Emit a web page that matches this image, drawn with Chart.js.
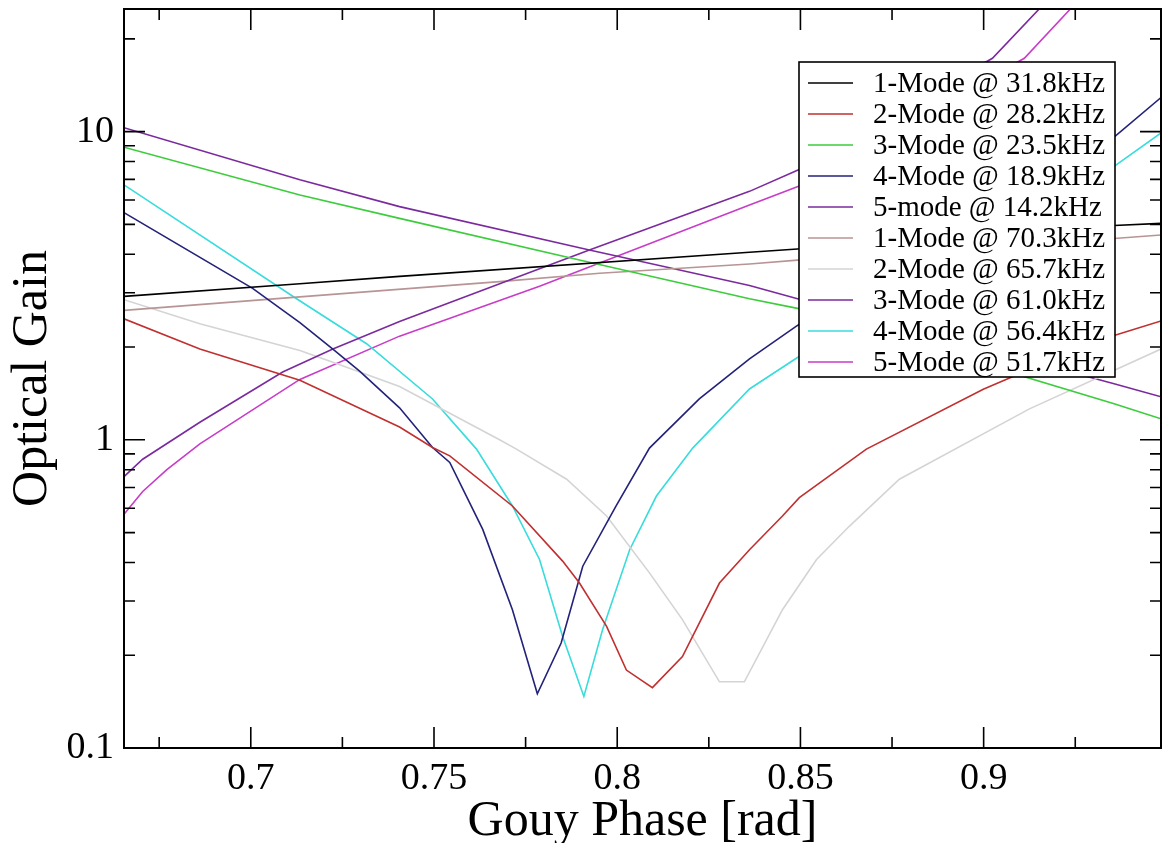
<!DOCTYPE html>
<html>
<head>
<meta charset="utf-8">
<script src="https://cdn.jsdelivr.net/npm/chart.js@4.4.0/dist/chart.umd.min.js"></script>
<style>
  html, body { margin: 0; padding: 0; background: #fff; }
  canvas { display: block; }
</style>
</head>
<body>
<canvas id="gainChart" width="1167" height="843"></canvas>
<script>
// values (x = Gouy phase in rad, y = optical gain)

// 1-Mode @ 31.8kHz
const phase318 = [0.6654, 0.7134, 0.7406, 0.8361, 0.8492, 0.9356, 0.9484];
const gain318 = [2.92, 3.21, 3.39, 4.06, 4.16, 4.96, 5.04];

// 2-Mode @ 28.2kHz
const phase282 = [0.6654, 0.6861, 0.7134, 0.7406, 0.7496, 0.7543, 0.7714, 0.7851, 0.7897, 0.7971, 0.8025, 0.8096, 0.8178, 0.8279, 0.8361, 0.8451, 0.8497, 0.8680, 0.8999, 0.9206, 0.9356, 0.9484];
const gain282 = [2.47, 1.97, 1.56, 1.10, 0.944, 0.887, 0.61, 0.404, 0.343, 0.248, 0.179, 0.157, 0.198, 0.343, 0.44, 0.566, 0.649, 0.933, 1.46, 1.86, 2.18, 2.43];

// 3-Mode @ 23.5kHz
const phase235 = [0.6654, 0.7134, 0.7406, 0.7897, 0.8361, 0.8492, 0.9356, 0.9484];
const gain235 = [8.9, 6.23, 5.23, 3.83, 2.87, 2.67, 1.31, 1.17];

// 4-Mode @ 18.9kHz
const phase189 = [0.6654, 0.7005, 0.7134, 0.7224, 0.7297, 0.7406, 0.7496, 0.7543, 0.7633, 0.7714, 0.7782, 0.7847, 0.7906, 0.7997, 0.8088, 0.8224, 0.8361, 0.8492, 0.9356, 0.9484];
const gain189 = [5.46, 3.1, 2.4, 1.97, 1.67, 1.27, 0.944, 0.844, 0.512, 0.281, 0.150, 0.219, 0.389, 0.61, 0.94, 1.357, 1.83, 2.35, 9.6, 12.9];

// 5-mode @ 14.2kHz
const phase142 = [0.6654, 0.6705, 0.6861, 0.7087, 0.7224, 0.7406, 0.7788, 0.7924, 0.8361, 0.8495, 0.9024, 0.9157];
const gain142 = [0.76, 0.865, 1.14, 1.66, 1.97, 2.42, 3.59, 4.13, 6.4, 7.52, 17.3, 25.4];

// 1-Mode @ 70.3kHz
const phase703 = [0.6654, 0.7134, 0.7679, 0.7952, 0.8361, 0.8492, 0.9356, 0.9484];
const gain703 = [2.63, 2.91, 3.26, 3.47, 3.72, 3.83, 4.5, 4.62];

// 2-Mode @ 65.7kHz
const phase657 = [0.6654, 0.6861, 0.7134, 0.7224, 0.7406, 0.7679, 0.7725, 0.7862, 0.7971, 0.8088, 0.8178, 0.8279, 0.8347, 0.8451, 0.8544, 0.8634, 0.8770, 0.9125, 0.9484];
const gain657 = [2.85, 2.38, 1.95, 1.786, 1.49, 1.0, 0.933, 0.745, 0.566, 0.37, 0.261, 0.164, 0.164, 0.281, 0.409, 0.525, 0.745, 1.26, 1.97];

// 3-Mode @ 61.0kHz
const phase610 = [0.6654, 0.7134, 0.7406, 0.7924, 0.8361, 0.8492, 0.9356, 0.9484];
const gain610 = [10.3, 6.98, 5.71, 4.13, 3.17, 2.87, 1.52, 1.38];

// 4-Mode @ 56.4kHz
const phase564 = [0.6654, 0.7125, 0.7316, 0.7496, 0.7616, 0.7714, 0.7788, 0.7851, 0.7909, 0.7960, 0.8034, 0.8107, 0.8206, 0.8361, 0.8495, 0.9356, 0.9484];
const gain564 = [6.72, 2.87, 2.05, 1.357, 0.933, 0.61, 0.409, 0.23, 0.147, 0.242, 0.44, 0.657, 0.94, 1.462, 1.86, 7.71, 9.9];

// 5-Mode @ 51.7kHz
const phase517 = [0.6654, 0.6705, 0.6771, 0.6861, 0.7134, 0.7406, 0.7788, 0.8361, 0.8495, 0.9111, 0.9242];
const gain517 = [0.573, 0.68, 0.80, 0.97, 1.57, 2.17, 3.15, 5.78, 6.65, 17.3, 25.4];

const seriesLabels = [
    "1-Mode @ 31.8kHz", "2-Mode @ 28.2kHz", "3-Mode @ 23.5kHz", "4-Mode @ 18.9kHz", "5-mode @ 14.2kHz",
    "1-Mode @ 70.3kHz", "2-Mode @ 65.7kHz", "3-Mode @ 61.0kHz", "4-Mode @ 56.4kHz", "5-Mode @ 51.7kHz"
];
const seriesPhase = [phase318, phase282, phase235, phase189, phase142, phase703, phase657, phase610, phase564, phase517];
const seriesGain = [gain318, gain282, gain235, gain189, gain142, gain703, gain657, gain610, gain564, gain517];
const seriesColors = ["#000000", "#c03030", "#3ccc3c", "#22227a", "#7b2a9e", "#b89494", "#d4d4d4", "#7b2a9e", "#38dcdc", "#c83cc8"];

const xMajorTicks = [0.7, 0.75, 0.8, 0.85, 0.9];
const xMinorTicks = [0.675, 0.725, 0.775, 0.825, 0.875, 0.925];
const yMajorTicks = [0.1, 1, 10];
const yMinorTicks = [0.2, 0.3, 0.4, 0.5, 0.6, 0.7, 0.8, 0.9, 2, 3, 4, 5, 6, 7, 8, 9, 20];

const serif = "'Liberation Serif', 'DejaVu Serif', serif";

const datasets = seriesLabels.map((label, i) => ({
    label: label,
    data: seriesPhase[i].map((p, j) => ({ x: p, y: seriesGain[i][j] })),
    borderColor: seriesColors[i],
    borderWidth: 1.6,
    pointRadius: 0,
    tension: 0,
    fill: false
}));

// frame, inward ticks and the boxed legend, drawn on top of the lines
const frameAndLegend = {
    id: "frameAndLegend",
    afterDatasetsDraw(chart) {
        const { ctx, chartArea: a, scales: { x, y } } = chart;
        ctx.save();
        ctx.strokeStyle = "#000";
        ctx.lineWidth = 1.6;
        ctx.beginPath();
        const xTick = (v, len) => {
            const p = x.getPixelForValue(v);
            ctx.moveTo(p, a.bottom); ctx.lineTo(p, a.bottom - len);
            ctx.moveTo(p, a.top); ctx.lineTo(p, a.top + len);
        };
        const yTick = (v, len) => {
            const p = y.getPixelForValue(v);
            ctx.moveTo(a.left, p); ctx.lineTo(a.left + len, p);
            ctx.moveTo(a.right, p); ctx.lineTo(a.right - len, p);
        };
        xMajorTicks.forEach(v => xTick(v, 21));
        xMinorTicks.forEach(v => xTick(v, 11));
        yMajorTicks.forEach(v => yTick(v, 21));
        yMinorTicks.forEach(v => yTick(v, 11));
        ctx.stroke();

        ctx.lineWidth = 2;
        ctx.strokeRect(a.left, a.top, a.right - a.left, a.bottom - a.top);

        // legend
        const boxLeft = 799, boxTop = 62, boxWidth = 316, rowH = 31, firstRow = 83;
        const boxHeight = (firstRow - boxTop) * 2 + rowH * (seriesLabels.length - 1) - 6;
        ctx.fillStyle = "#fff";
        ctx.fillRect(boxLeft, boxTop, boxWidth, boxHeight);
        ctx.lineWidth = 1.6;
        ctx.strokeStyle = "#000";
        ctx.strokeRect(boxLeft, boxTop, boxWidth, boxHeight);
        ctx.font = "29px " + serif;
        ctx.textBaseline = "middle";
        ctx.textAlign = "left";
        seriesLabels.forEach((label, i) => {
            const yy = firstRow + i * rowH;
            ctx.strokeStyle = seriesColors[i];
            ctx.beginPath();
            ctx.moveTo(808, yy);
            ctx.lineTo(853, yy);
            ctx.stroke();
            ctx.fillStyle = "#000";
            ctx.fillText(label, 873, yy + 1);
        });
        ctx.restore();
    }
};

const ctx = document.getElementById("gainChart").getContext("2d");
new Chart(ctx, {
    type: "line",
    data: { datasets: datasets },
    options: {
        responsive: false,
        animation: false,
        devicePixelRatio: 1,
        layout: { padding: { top: 9, right: 6, left: 0, bottom: 0 } },
        plugins: { legend: { display: false }, tooltip: { enabled: false } },
        scales: {
            x: {
                type: "linear",
                min: 0.6654,
                max: 0.9484,
                grid: { display: false, drawTicks: false },
                border: { display: false },
                afterBuildTicks: s => { s.ticks = xMajorTicks.map(v => ({ value: v })); },
                afterFit: s => { s.height = 95; s.paddingLeft = 0; s.paddingRight = 0; },
                ticks: {
                    font: { family: serif, size: 38 },
                    color: "#000",
                    padding: 8,
                    maxRotation: 0,
                    autoSkip: false,
                    callback: v => String(v)
                },
                title: {
                    display: true,
                    text: "Gouy Phase [rad]",
                    font: { family: serif, size: 50, lineHeight: 1 },
                    color: "#000",
                    padding: { top: 0, bottom: -4 }
                }
            },
            y: {
                type: "logarithmic",
                min: 0.1,
                max: 25,
                grid: { display: false, drawTicks: false },
                border: { display: false },
                afterBuildTicks: s => { s.ticks = yMajorTicks.map(v => ({ value: v })); },
                afterFit: s => { s.width = 124; s.paddingTop = 0; s.paddingBottom = 0; },
                ticks: {
                    font: { family: serif, size: 38 },
                    color: "#000",
                    padding: 10,
                    autoSkip: false,
                    callback: v => String(v)
                },
                title: {
                    display: true,
                    text: "Optical Gain",
                    font: { family: serif, size: 50, lineHeight: 1 },
                    color: "#000",
                    padding: { top: 8, bottom: 0 }
                }
            }
        }
    },
    plugins: [frameAndLegend]
});
</script>
</body>
</html>
